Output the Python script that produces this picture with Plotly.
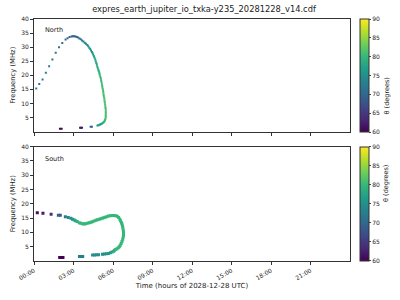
import plotly.graph_objects as go

# ---- data ----
north_time = [0.17, 0.4, 0.65, 0.9, 1.15, 1.4, 1.65, 1.9, 2.15, 2.4, 2.55, 2.7, 2.85, 2.95, 3.05,
              3.15, 3.25, 3.35, 3.45, 3.55, 3.65, 3.75, 3.85, 3.95, 4.05, 4.12, 4.2, 4.27, 4.33,
              4.4, 4.45, 4.5, 4.55, 4.6, 4.65, 4.69, 4.73, 4.77, 4.8, 4.84, 4.88, 4.92, 4.95,
              4.98, 5.0, 5.04, 5.08, 5.1, 5.13, 5.16, 5.18, 5.2, 5.23, 5.25, 5.27, 5.28, 5.3,
              5.33, 5.35, 5.36, 5.38, 5.4, 5.42, 5.43, 5.45, 5.45, 5.45, 5.45, 5.45, 5.44, 5.42,
              5.38, 5.35, 5.3, 5.25, 5.18, 5.12, 5.05, 5.0, 4.9, 4.82, 4.4, 4.3, 3.65, 3.57,
              3.5, 2.1, 1.97]
north_freq = [15.3, 16.9, 18.5, 20.9, 23.2, 25.6, 28.0, 30.0, 31.5, 32.7, 33.2, 33.6, 33.8, 33.9, 33.9,
              33.8, 33.6, 33.4, 33.1, 32.8, 32.4, 32.0, 31.6, 31.2, 30.8, 30.3, 29.8, 29.3, 28.8,
              28.3, 27.8, 27.3, 26.8, 26.2, 25.6, 25.0, 24.4, 23.8, 23.2, 22.6, 22.0, 21.5, 21.0,
              20.5, 20.0, 19.4, 18.8, 18.1, 17.5, 16.8, 16.2, 15.6, 15.0, 14.4, 13.8, 13.2, 12.6,
              12.0, 11.4, 10.8, 10.2, 9.6, 9.0, 8.4, 7.8, 7.2, 6.6, 6.0, 5.4, 4.9, 4.4,
              4.0, 3.6, 3.35, 3.1, 2.9, 2.7, 2.55, 2.4, 2.2, 2.1, 1.7, 1.7, 1.3, 1.3,
              1.3, 0.95, 0.95]
north_theta = [72, 72, 72, 72, 72, 72, 72, 71, 71, 70, 70, 69, 69, 69, 69,
               69, 70, 70, 71, 72, 72, 73, 73, 74, 74, 75, 75, 76, 76,
               76, 76, 77, 77, 77, 77, 78, 78, 78, 78, 79, 79, 79, 79,
               80, 80, 80, 80, 80, 80, 81, 81, 81, 81, 81, 81, 81, 81,
               81, 81, 81, 81, 81, 81, 81, 81, 81, 81, 81, 81, 81, 81,
               80, 80, 80, 79, 79, 78, 77, 77, 76, 76, 70, 70, 62, 62,
               62, 60, 60]

south_time = [0.25, 0.68, 1.3, 1.85, 2.0, 2.38, 2.6, 2.8, 2.93, 3.05, 3.15, 3.28, 3.43, 3.55, 3.68,
              3.8, 3.92, 4.05, 4.2, 4.32, 4.43, 4.57, 4.7, 4.82, 4.95, 5.07, 5.18, 5.3, 5.4,
              5.52, 5.65, 5.8, 5.93, 6.07, 6.2, 6.32, 6.43, 6.52, 6.58, 6.64, 6.68, 6.72, 6.75,
              6.78, 6.8, 6.8, 6.78, 6.74, 6.68, 6.62, 6.55, 6.48, 6.4, 6.3, 6.2, 6.12, 6.05,
              5.92, 5.8, 5.65, 5.5, 5.35, 5.2, 4.9, 4.75, 4.6, 4.45, 3.7, 3.57, 3.45, 2.2,
              2.07, 1.95]
south_freq = [16.9, 16.7, 16.3, 16.0, 16.0, 15.5, 15.2, 14.9, 14.6, 14.3, 14.1, 13.8, 13.4, 13.2, 13.0,
              12.9, 13.0, 13.2, 13.4, 13.5, 13.7, 14.0, 14.2, 14.4, 14.6, 14.8, 14.9, 15.1, 15.3,
              15.5, 15.7, 15.8, 15.9, 15.9, 15.8, 15.6, 15.2, 14.6, 14.0, 13.4, 12.9, 12.2, 11.5,
              10.7, 10.0, 9.2, 8.5, 7.6, 6.8, 6.1, 5.5, 5.0, 4.6, 4.3, 4.0, 3.75, 3.4,
              3.1, 2.9, 2.65, 2.55, 2.45, 2.4, 2.2, 2.15, 2.1, 2.1, 1.6, 1.6, 1.6, 1.25,
              1.25, 1.25]
south_theta = [61, 62, 64, 69, 69, 72, 74, 75, 76, 77, 78, 79, 80, 80, 80,
               80, 80, 80, 80, 80, 80, 80, 80, 80, 80, 80, 80, 80, 80,
               80, 80, 80, 80, 80, 80, 80, 80, 80, 80, 80, 80, 80, 80,
               80, 80, 80, 80, 80, 80, 80, 80, 80, 80, 80, 80, 80, 79,
               78, 77, 76, 76, 75, 75, 75, 75, 75, 75, 73, 73, 73, 60,
               60, 60]

tick_hours = [0, 3, 6, 9, 12, 15, 18, 21]
tick_labels = ["00:00", "03:00", "06:00", "09:00", "12:00", "15:00", "18:00", "21:00"]
cbar_ticks = [60, 65, 70, 75, 80, 85, 90]

FONT = "DejaVu Sans"
TXT = "#222222"

fig = go.Figure()
fig.add_trace(go.Scatter(x=north_time, y=north_freq, mode="markers",
                         marker=dict(symbol="square", size=2, color=north_theta,
                                     coloraxis="coloraxis", line=dict(width=0)),
                         xaxis="x", yaxis="y", showlegend=False))
fig.add_trace(go.Scatter(x=south_time, y=south_freq, mode="markers",
                         marker=dict(symbol="square", size=3, color=south_theta,
                                     coloraxis="coloraxis2", line=dict(width=0)),
                         xaxis="x2", yaxis="y2", showlegend=False))

axis_common = dict(range=[0, 24], showgrid=False, zeroline=False, showline=True, mirror=True,
                   linecolor="#333333", linewidth=1, ticks="outside", ticklen=3,
                   tickcolor="#333333", tickvals=tick_hours)
yaxis_common = dict(range=[0, 40], showgrid=False, zeroline=False, showline=True, mirror=True,
                    linecolor="#333333", linewidth=1, ticks="outside", ticklen=3,
                    tickcolor="#333333", tickvals=[5, 10, 15, 20, 25, 30, 35, 40],
                    tickfont=dict(size=6, family=FONT, color=TXT),
                    title=dict(text="Frequency (MHz)", font=dict(size=6.8, family=FONT, color=TXT),
                               standoff=4))

def cbar(y0, length):
    return dict(x=1.031, xanchor="left", xref="paper", y=y0, yanchor="top", yref="paper",
                len=length, lenmode="fraction", thickness=9, outlinewidth=1,
                outlinecolor="#333333", tickvals=cbar_ticks, ticks="outside", ticklen=2,
                tickfont=dict(size=6, family=FONT, color=TXT), xpad=0, ypad=0)

fig.update_layout(
    width=400, height=300,
    margin=dict(l=31, r=50, t=19, b=38),
    paper_bgcolor="white", plot_bgcolor="white",
    font=dict(family=FONT, color=TXT),
    title=dict(text="expres_earth_jupiter_io_txka-y235_20281228_v14.cdf",
               x=0.51, xref="container", xanchor="center", y=0.97, yref="container",
               yanchor="middle", font=dict(size=8.3, family=FONT, color=TXT)),
    xaxis=dict(domain=[0, 1], anchor="y", showticklabels=False, **axis_common),
    yaxis=dict(domain=[0.535, 1], anchor="x", **yaxis_common),
    xaxis2=dict(domain=[0, 1], anchor="y2", ticktext=tick_labels, tickangle=-30,
                tickfont=dict(size=6, family=FONT, color=TXT),
                title=dict(text="Time (hours of 2028-12-28 UTC)",
                           font=dict(size=7, family=FONT, color=TXT), standoff=2),
                **axis_common),
    yaxis2=dict(domain=[0, 0.473], anchor="x2", **yaxis_common),
    coloraxis=dict(colorscale="Viridis", cmin=60, cmax=90, colorbar=cbar(1.0, 0.465)),
    coloraxis2=dict(colorscale="Viridis", cmin=60, cmax=90, colorbar=cbar(0.473, 0.473)),
    annotations=[
        dict(text="North", x=0.03, y=0.955, xref="paper", yref="paper", xanchor="left",
             yanchor="middle", showarrow=False, font=dict(size=6.5, family=FONT, color=TXT)),
        dict(text="South", x=0.03, y=0.42, xref="paper", yref="paper", xanchor="left",
             yanchor="middle", showarrow=False, font=dict(size=6.5, family=FONT, color=TXT)),
        dict(text="θ (degrees)", x=1.135, y=0.7675, xref="paper", yref="paper",
             textangle=-90, showarrow=False, font=dict(size=6.5, family=FONT, color=TXT)),
        dict(text="θ (degrees)", x=1.135, y=0.2365, xref="paper", yref="paper",
             textangle=-90, showarrow=False, font=dict(size=6.5, family=FONT, color=TXT)),
    ],
)

fig.write_html("out.html")
